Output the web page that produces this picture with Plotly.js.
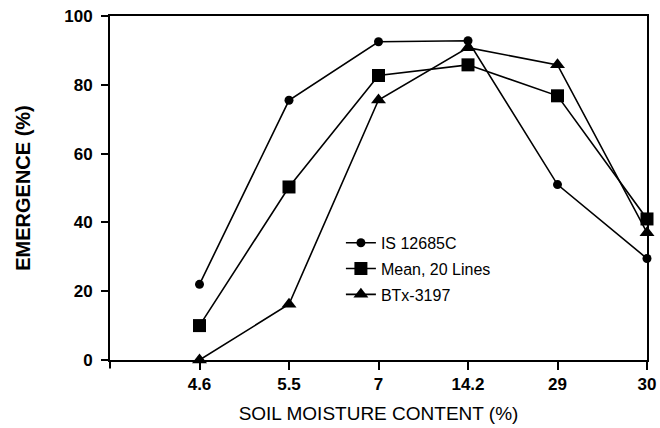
<!DOCTYPE html>
<html>
<head>
<meta charset="utf-8">
<script src="https://cdn.plot.ly/plotly-3.0.1.min.js"></script>
<style>html,body{margin:0;padding:0;background:#fff;}#chart{width:660px;height:428px;}</style>
</head>
<body>
<div id="chart"></div>
<script>
const categories = ["4.6", "5.5", "7", "14.2", "29", "30"];
const seriesNames = ["IS 12685C", "Mean, 20 Lines", "BTx-3197"];
const is12685c = [22, 75.5, 92.5, 92.8, 51, 29.5];
const mean20 = [10, 50.3, 82.7, 85.8, 76.8, 41];
const btx3197 = [0, 16.2, 75.6, 90.8, 85.8, 37];
const yTicks = [0, 20, 40, 60, 80, 100];

const symbols = ["circle", "square", "triangle-up"];
const sizes = [9, 13, 13];
const values = [is12685c, mean20, btx3197];

const traces = values.map((v, i) => ({
  x: categories,
  y: v,
  name: seriesNames[i],
  legendgroup: "g" + i,
  type: "scatter",
  mode: "lines+markers",
  line: {color: "#000", width: 1.6},
  marker: {symbol: symbols[i], size: sizes[i], color: "#000"},
  cliponaxis: false
}));

const layout = {
  width: 660, height: 428,
  margin: {l: 110, r: 13, t: 16, b: 68},
  paper_bgcolor: "#fff", plot_bgcolor: "#fff",
  font: {family: "Liberation Sans, Arial, sans-serif", color: "#000"},
  showlegend: true,
  legend: {
    x: 0.43, y: 0.39, xanchor: "left", yanchor: "top",
    bgcolor: "rgba(0,0,0,0)", itemwidth: 30,
    font: {size: 16, color: "#000"},
    traceorder: "grouped",
    tracegroupgap: 2
  },
  xaxis: {
    type: "category",
    range: [-1, 5],
    showline: true, linecolor: "#000", linewidth: 2, mirror: true,
    ticks: "outside", ticklen: 8, tickwidth: 2, tickcolor: "#000",
    showgrid: false, zeroline: false,
    tickfont: {size: 17, weight: "bold"},
    title: {text: "SOIL MOISTURE CONTENT (%)", font: {size: 19}, standoff: 13}
  },
  yaxis: {
    range: [0, 100],
    tickvals: yTicks,
    showline: true, linecolor: "#000", linewidth: 2, mirror: true,
    ticks: "outside", ticklen: 7, tickwidth: 2, tickcolor: "#000",
    ticklabelstandoff: 5,
    showgrid: false, zeroline: false,
    tickfont: {size: 17, weight: "bold"},
    title: {text: "EMERGENCE (%)", font: {size: 20, weight: "bold"}, standoff: 28}
  },
  shapes: [
    {type: "line", xref: "paper", yref: "paper", x0: 0, x1: 0, y0: 0, y1: -0.025, line: {color: "#000", width: 2}}
  ]
};

Plotly.newPlot("chart", traces, layout, {displayModeBar: false, staticPlot: true});
</script>
</body>
</html>
